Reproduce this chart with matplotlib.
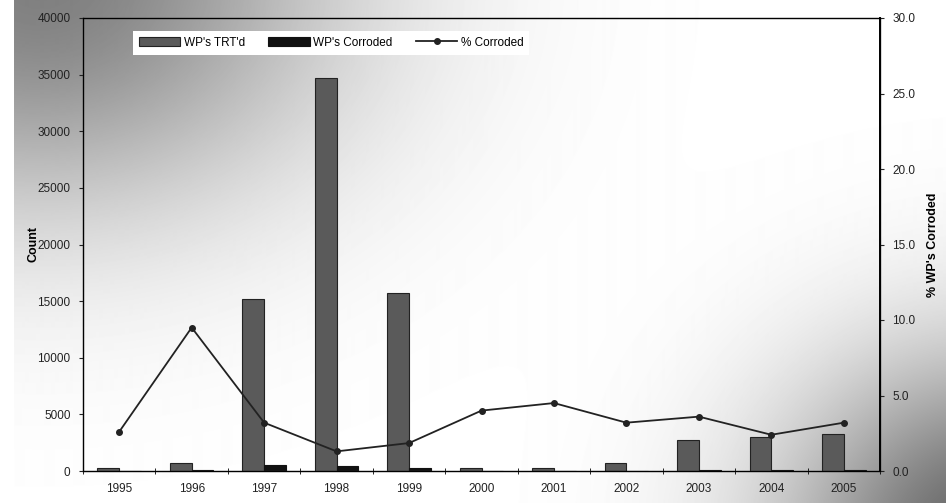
import numpy as np
import matplotlib
matplotlib.use("Agg")
import matplotlib.pyplot as plt
from matplotlib.ticker import FormatStrFormatter

# data
years = ["1995", "1996", "1997", "1998", "1999", "2000",
         "2001", "2002", "2003", "2004", "2005"]
wp_trtd = [300, 700, 15200, 34700, 15700, 300, 300, 700, 2750, 3000, 3250]
wp_corroded = [30, 70, 500, 450, 290, 12, 14, 22, 100, 72, 104]
pct_corroded = [2.6, 9.5, 3.2, 1.3, 1.85, 4.0, 4.5, 3.2, 3.6, 2.4, 3.2]

plt.rcParams['font.family'] = ['Liberation Sans', 'DejaVu Sans']

W, H = 946, 503
fig = plt.figure(figsize=(W / 100, H / 100), dpi=100)

# scanned-paper background: soft grey shading top-left and bottom-right
bg = fig.add_axes([0, 0, 1, 1], zorder=-10)
yy, xx = np.mgrid[0:H, 0:W]
d1 = np.hypot((xx - 40) / 1.3, (yy + 20) / 1.0)
d2 = np.hypot(xx - 990, (yy - 540) / 0.9)
shade = 0.5 * np.exp(-(d1 / 230) ** 2) + 0.6 * np.exp(-(d2 / 210) ** 2)
shade[:, :14] = 0
bg.imshow(1 - shade, cmap='gray', vmin=0, vmax=1, aspect='auto',
          extent=[0, W, H, 0], interpolation='bilinear')
bg.axis('off')

ax = fig.add_axes([83 / W, 1 - 471 / H, (880 - 83) / W, (471 - 18) / H])
ax.patch.set_alpha(0)
x = np.arange(len(years))
w = 0.3

b1 = ax.bar(x - w / 2, wp_trtd, w, color='#5a5a5a', edgecolor='#222222',
            linewidth=0.8, label="WP's TRT'd")
b2 = ax.bar(x + w / 2, wp_corroded, w, color='#111111', edgecolor='#111111',
            linewidth=0.8, label="WP's Corroded")

ax.set_xlim(-0.5, len(years) - 0.5)
ax.set_ylim(0, 40000)
ax.set_yticks(range(0, 40001, 5000))
ax.set_xticks(x)
ax.set_xticklabels(years)
ax.set_xticks(np.arange(-0.5, len(years), 1), minor=True)
ax.tick_params(axis='x', which='major', length=0, pad=9)
ax.tick_params(axis='x', which='minor', length=4, direction='inout')
ax.tick_params(axis='y', length=3, direction='out', pad=6)
ax.tick_params(labelsize=8.5, colors='#222222')
ax.set_ylabel('Count', fontsize=9, fontweight='bold')
ax.yaxis.set_label_coords(-0.055, 0.5)
for s in ax.spines.values():
    s.set_color('#333333')
    s.set_linewidth(1)

ax2 = ax.twinx()
ln, = ax2.plot(x, pct_corroded, color='#222222', linewidth=1.3,
               marker='o', markersize=4, label='% Corroded')
ax2.set_ylim(0, 30)
ax2.set_yticks(range(0, 31, 5))
ax2.yaxis.set_major_formatter(FormatStrFormatter('%.1f'))
ax2.tick_params(labelsize=8.5, length=3, colors='#222222', pad=6)
ax2.set_ylabel("% WP's Corroded", fontsize=9, fontweight='bold', labelpad=8)
ax2.spines['right'].set_linewidth(1.4)

leg = ax.legend([b1, b2, ln], ["WP's TRT'd", "WP's Corroded", "% Corroded"],
                loc='upper left', bbox_to_anchor=(0.055, 0.985), ncol=3,
                fontsize=8.5, frameon=True, fancybox=False, borderpad=0.5,
                handlelength=3.5, columnspacing=2.0, handletextpad=0.3)
leg.get_frame().set_edgecolor('none')
leg.get_frame().set_facecolor('white')
leg.get_frame().set_alpha(1)

fig.savefig('out.png', dpi=100)
